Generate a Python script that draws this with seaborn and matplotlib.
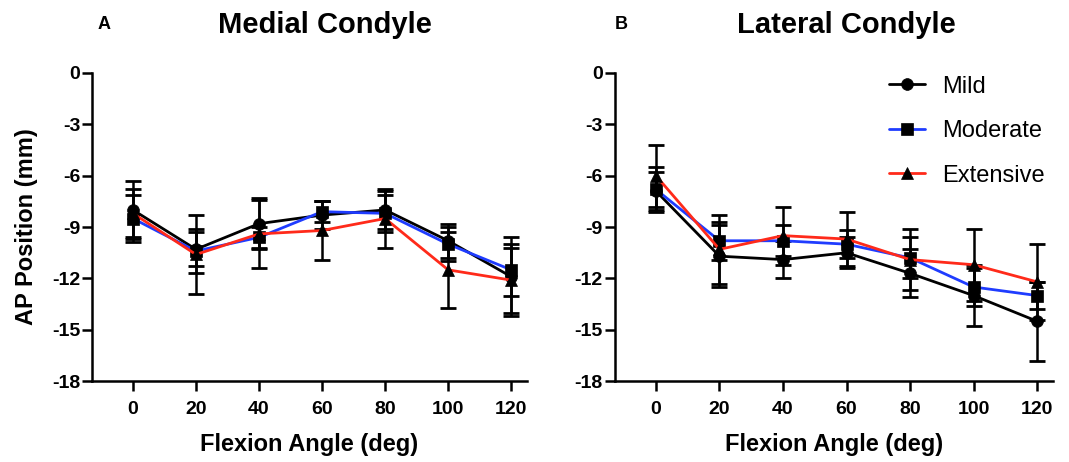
import numpy as np
import pandas as pd
import matplotlib
matplotlib.use("Agg")
import matplotlib.pyplot as plt
import seaborn as sns

# flexion angles (deg)
angles = [0, 20, 40, 60, 80, 100, 120]
groups = ["Mild", "Moderate", "Extensive"]

# medial condyle AP position (mm), mean and SD
med_mild = [-8.0, -10.3, -8.8, -8.3, -8.0, -9.8, -11.9]
med_mild_sd = [1.7, 1.0, 1.5, 0.8, 1.1, 1.0, 2.3]
med_moderate = [-8.5, -10.4, -9.6, -8.1, -8.2, -10.0, -11.5]
med_moderate_sd = [1.4, 1.3, 0.6, 0.6, 1.1, 1.0, 1.5]
med_extensive = [-8.2, -10.6, -9.4, -9.2, -8.5, -11.5, -12.1]
med_extensive_sd = [1.4, 2.3, 2.0, 1.7, 1.7, 2.2, 1.9]

# lateral condyle
lat_mild = [-6.9, -10.7, -10.9, -10.5, -11.7, -13.0, -14.5]
lat_mild_sd = [1.1, 1.8, 1.1, 0.9, 1.4, 1.8, 2.3]
lat_moderate = [-6.8, -9.8, -9.8, -10.0, -10.8, -12.5, -13.0]
lat_moderate_sd = [1.3, 1.1, 0.9, 0.8, 1.2, 1.1, 0.8]
lat_extensive = [-6.0, -10.3, -9.5, -9.7, -10.9, -11.2, -12.2]
lat_extensive_sd = [1.8, 2.0, 1.7, 1.6, 1.8, 2.1, 2.2]

colors = {"Mild": "#000000", "Moderate": "#1f3cff", "Extensive": "#ff2a1a"}
markers = {"Mild": "o", "Moderate": "s", "Extensive": "^"}


def make_df(mild, mild_sd, mod, mod_sd, ext, ext_sd):
    rows = []
    for g, m, s in zip(groups, [mild, mod, ext], [mild_sd, mod_sd, ext_sd]):
        for a, v, e in zip(angles, m, s):
            rows.append({"angle": a, "pos": v, "sd": e, "group": g})
    return pd.DataFrame(rows)


df_med = make_df(med_mild, med_mild_sd, med_moderate, med_moderate_sd,
                 med_extensive, med_extensive_sd)
df_lat = make_df(lat_mild, lat_mild_sd, lat_moderate, lat_moderate_sd,
                 lat_extensive, lat_extensive_sd)

sns.set_style("ticks")
plt.rcParams["font.family"] = ["Liberation Sans", "DejaVu Sans"]
plt.rcParams["axes.unicode_minus"] = False
plt.rcParams["text.color"] = "black"
plt.rcParams["axes.labelcolor"] = "black"
plt.rcParams["xtick.color"] = "black"
plt.rcParams["ytick.color"] = "black"

fig = plt.figure(figsize=(10.69, 4.62), dpi=100)
ax1 = fig.add_axes([0.086, 0.175, 0.407, 0.667])
ax2 = fig.add_axes([0.575, 0.175, 0.410, 0.667])

for ax, df in [(ax1, df_med), (ax2, df_lat)]:
    # error bars under the lines
    for g in groups:
        d = df[df["group"] == g]
        ax.errorbar(d["angle"], d["pos"], yerr=d["sd"], fmt="none",
                    ecolor="black", elinewidth=1.8, capsize=5.5, capthick=2.0,
                    zorder=1)
    sns.lineplot(data=df, x="angle", y="pos", hue="group", style="group",
                 hue_order=groups, style_order=groups, palette=colors,
                 markers=markers, dashes=False, errorbar=None, legend=False,
                 linewidth=2.0, markersize=8.5, markerfacecolor="black",
                 markeredgecolor="black", markeredgewidth=0.5, ax=ax, zorder=3)
    ax.set_xlim(-13, 125)
    ax.set_ylim(-18, 0)
    ax.set_xticks(angles)
    ax.set_yticks([0, -3, -6, -9, -12, -15, -18])
    ax.set_xlabel("Flexion Angle (deg)", fontsize=17, fontweight="bold", labelpad=11)
    ax.set_ylabel("")
    for lab in ax.get_xticklabels() + ax.get_yticklabels():
        lab.set_fontweight("bold")
    ax.tick_params(axis="both", direction="out", length=7, width=1.8,
                   labelsize=14, color="black", labelcolor="black")
    ax.tick_params(axis="x", pad=7)
    ax.tick_params(axis="y", pad=1.5)
    for side in ["left", "bottom"]:
        ax.spines[side].set_linewidth(1.8)
        ax.spines[side].set_color("black")
    sns.despine(ax=ax)

ax1.set_ylabel("AP Position (mm)", fontsize=17, fontweight="bold", labelpad=10)

handles = ax2.lines[-3:]
leg = ax2.legend(handles, groups, loc="upper right", bbox_to_anchor=(1.03, 1.06),
                 frameon=False, fontsize=17, handlelength=1.5, handletextpad=0.75,
                 labelspacing=0.95)

fig.text(0.304, 0.945, "Medial Condyle", fontsize=21, fontweight="bold",
         ha="center", va="center")
fig.text(0.792, 0.945, "Lateral Condyle", fontsize=21, fontweight="bold",
         ha="center", va="center")
fig.text(0.097, 0.947, "A", fontsize=13, fontweight="bold", ha="center", va="center")
fig.text(0.581, 0.947, "B", fontsize=13, fontweight="bold", ha="center", va="center")

fig.savefig("out.png", dpi=100)
